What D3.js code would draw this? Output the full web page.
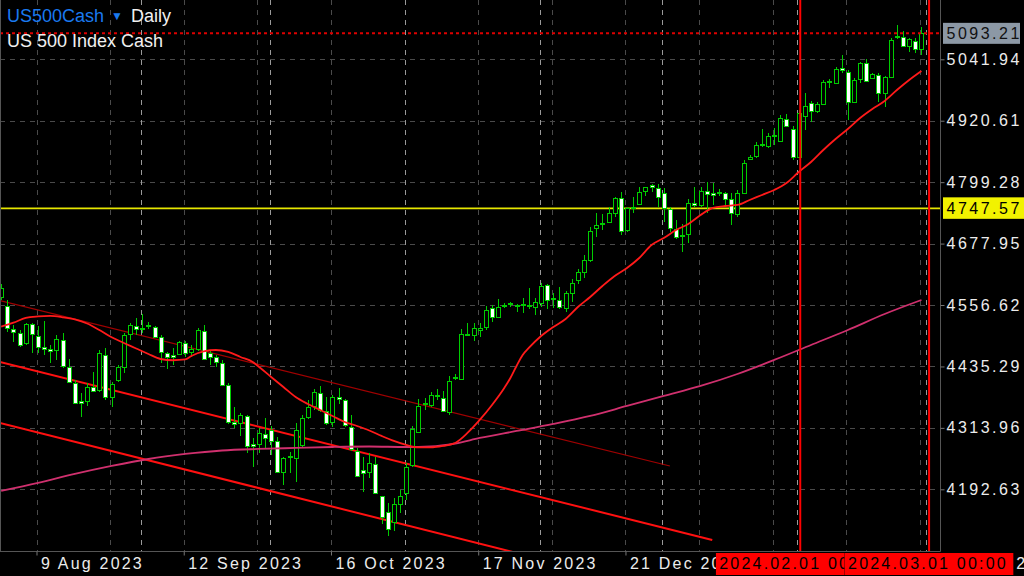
<!DOCTYPE html>
<html><head><meta charset="utf-8">
<script src="https://cdn.jsdelivr.net/npm/d3@7"></script>
<style>
html,body{margin:0;padding:0;background:#000;overflow:hidden}
svg{display:block}
text{font-family:"Liberation Sans",Helvetica,Arial,sans-serif}
</style></head><body>
<svg id="c" width="1024" height="576"></svg>
<script>
// ---------------- DATA ----------------
const symbolName = "US500Cash";
const timeframe = "Daily";
const symbolDesc = "US 500 Index Cash";
const firstIndex = -6; // bar index of first candle (index 0 = 9 Aug 2023)
const open = [4572.5,4554.7,4508.7,4500.8,4481.0,4518.6,4495.5,4474.3,4469.8,4467.8,
4487.6,4434.8,4403.2,4367.1,4367.7,4395.3,4388.8,4457.9,4374.4,4408.6,
4434.8,4498.8,4515.2,4511.3,4516.2,4513.8,4492.9,4461.3,4457.9,4459.9,
4482.2,4463.3,4469.2,4505.3,4461.3,4453.4,4442.7,4398.7,4326.2,4323.0,
4337.5,4281.6,4282.2,4301.9,4309.8,4288.7,4227.5,4258.5,4253.9,4280.2,
4334.9,4357.2,4382.3,4347.9,4326.2,4375.6,4369.1,4316.3,4268.9,4230.8,
4227.5,4242.7,4178.5,4147.3,4128.7,4163.7,4186.0,4240.7,4306.5,4363.1,
4359.2,4378.5,4373.6,4346.0,4414.1,4410.5,4499.8,4497.4,4507.3,4513.8,
4550.2,4533.6,4556.3,4561.0,4555.7,4557.7,4556.3,4553.3,4561.2,4595.6,
4569.5,4566.6,4550.2,4581.0,4606.1,4622.5,4645.6,4708.2,4717.7,4721.2,
4739.0,4767.4,4704.8,4750.6,4756.2,4782.4,4792.7,4787.2,4777.3,4745.7,
4706.2,4694.0,4696.9,4758.7,4754.2,4782.4,4776.9,4780.3,4777.3,4765.4,
4736.4,4778.5,4844.4,4851.0,4873.7,4870.7,4891.5,4881.2,4923.4,4903.7,
4849.6,4930.0,4955.0,4940.4,4953.7,4998.7,4995.7,5024.8,5017.5,4958.2,
5002.4,5034.0,5004.4,5010.9,4976.0,5007.6,5087.6,5086.6,5068.2,5078.7,
5061.7];
const high = [4598.2,4566.6,4517.2,4507.3,4521.7,4521.7,4515.2,4525.1,4477.7,4497.4,
4500.8,4450.6,4408.6,4382.3,4403.2,4425.0,4467.8,4471.2,4405.2,4438.2,
4500.8,4521.7,4530.4,4538.9,4523.7,4515.2,4497.4,4464.5,4471.2,4486.2,
4485.6,4477.7,4510.7,4517.2,4467.8,4457.9,4448.1,4402.0,4355.8,4342.8,
4339.4,4293.4,4313.2,4332.9,4317.7,4296.6,4257.1,4267.0,4324.2,4339.4,
4369.1,4390.2,4396.7,4375.6,4378.9,4392.2,4370.4,4339.4,4273.7,4255.9,
4265.0,4257.1,4179.5,4165.0,4174.9,4191.3,4244.0,4317.7,4370.4,4372.4,
4385.5,4390.2,4387.4,4416.5,4420.4,4508.7,4521.7,4520.5,4521.7,4554.7,
4556.7,4567.9,4560.0,4563.2,4558.7,4569.9,4589.7,4569.9,4600.7,4598.2,
4579.8,4592.8,4584.3,4607.4,4627.2,4655.4,4711.3,4737.8,4736.4,4750.8,
4770.6,4780.5,4750.8,4770.6,4789.1,4790.3,4795.7,4795.7,4787.2,4750.8,
4724.6,4716.7,4765.4,4790.3,4790.3,4800.2,4798.2,4785.2,4780.5,4777.3,
4783.8,4843.1,4852.9,4879.2,4903.7,4897.0,4905.7,4931.9,4933.9,4910.2,
4941.8,4974.8,4960.2,4958.2,5001.1,5002.4,5027.3,5050.4,5020.8,5004.4,
5037.2,5041.9,5015.5,5014.3,5009.0,5083.4,5109.7,5098.4,5083.4,5083.4,
5105.1];
const low = [4566.6,4503.9,4484.2,4474.3,4477.7,4462.5,4462.5,4457.9,4442.7,4448.1,
4431.7,4402.0,4362.5,4336.1,4357.2,4384.9,4385.5,4369.1,4355.8,4405.2,
4423.0,4487.6,4497.4,4500.8,4508.7,4492.5,4441.5,4429.7,4438.2,4457.9,
4453.4,4454.6,4466.4,4448.1,4438.2,4434.8,4396.7,4321.7,4313.2,4298.0,
4265.0,4237.3,4263.8,4273.7,4260.4,4224.3,4201.2,4224.3,4207.7,4276.8,
4330.9,4349.3,4346.0,4319.7,4315.1,4361.2,4315.7,4268.9,4217.6,4188.0,
4215.0,4184.8,4124.2,4100.5,4110.9,4145.3,4171.6,4236.7,4303.9,4349.3,
4355.8,4369.1,4346.0,4339.4,4408.6,4408.6,4495.5,4486.2,4494.1,4507.3,
4523.7,4530.4,4550.2,4553.3,4543.5,4540.3,4548.2,4536.9,4553.3,4548.2,
4550.2,4548.2,4543.5,4563.2,4598.2,4609.4,4642.2,4691.6,4704.8,4718.0,
4731.1,4694.9,4700.9,4737.8,4754.2,4772.0,4780.5,4750.8,4721.2,4701.5,
4686.4,4661.4,4678.5,4750.8,4750.8,4737.8,4754.2,4772.0,4754.2,4714.7,
4731.1,4777.3,4843.1,4846.4,4869.3,4866.2,4872.7,4879.2,4908.8,4843.1,
4847.0,4902.3,4918.7,4935.3,4951.7,4984.7,4993.2,5014.3,4922.1,4955.0,
4994.5,4997.7,5002.4,4958.2,4947.1,5004.4,5081.4,5066.8,5057.0,5053.8,
5050.4];
const close = [4590.3,4510.7,4502.8,4477.7,4518.6,4498.8,4474.3,4469.8,4466.4,4488.9,
4436.2,4404.0,4363.7,4363.1,4394.1,4387.4,4462.5,4374.4,4400.7,4433.6,
4497.4,4517.2,4508.7,4509.3,4514.2,4494.1,4464.5,4453.4,4453.4,4483.0,
4462.5,4469.8,4507.3,4449.4,4454.6,4444.7,4398.7,4326.2,4321.7,4339.4,
4278.2,4278.2,4303.3,4293.4,4288.7,4227.5,4253.9,4255.9,4309.8,4332.9,
4355.8,4385.5,4349.3,4323.0,4375.6,4370.4,4319.7,4271.7,4219.0,4225.5,
4244.0,4186.0,4137.4,4113.7,4163.7,4179.5,4237.3,4311.2,4357.2,4361.2,
4378.9,4376.6,4347.9,4406.6,4412.1,4499.4,4497.8,4510.7,4511.3,4546.8,
4533.6,4552.1,4554.3,4559.1,4553.7,4555.7,4554.3,4562.0,4594.2,4566.6,
4567.6,4552.1,4579.8,4600.7,4621.3,4645.6,4703.4,4714.7,4715.7,4737.8,
4767.4,4703.4,4747.7,4748.7,4780.5,4789.1,4790.7,4769.4,4747.7,4708.2,
4691.6,4692.0,4757.5,4754.2,4782.4,4775.3,4774.9,4778.3,4765.4,4737.8,
4778.5,4837.7,4849.6,4872.7,4871.7,4890.5,4889.5,4925.4,4910.2,4849.6,
4935.9,4949.7,4940.4,4953.7,4997.7,4996.7,5022.2,5020.8,4958.2,5001.1,
5034.0,4999.1,5012.9,4976.0,5006.4,5080.1,5085.6,5068.2,5081.4,5061.7,
5093.21];

// moving averages (bar index, price)
const maFastIndex = [-6,-4,-2,0,2,4,6,8,10,12,14,16,18,20,22,24,25,27,29,31,33,35,36,38,40,42,44,46,48,50,52,54,56,58,60,62,64,66,68,70,72,74,76,77,78,79,80,82,84,86,88,90,92,94,96,98,100,102,104,106,108,110,112,114,116,118,120,122,124,126,128,130,132,134,136,138,140,142,144];
const maFastValue = [4513.8,4521.7,4531.0,4534.0,4535.0,4532.4,4528.1,4520.2,4507.3,4492.9,4481.6,4470.8,4459.9,4450.0,4447.5,4449.1,4456.0,4464.9,4467.8,4463.9,4454.0,4444.1,4434.8,4414.5,4394.7,4375.0,4361.2,4349.3,4337.5,4325.6,4317.7,4308.8,4298.0,4288.1,4280.2,4275.3,4275.3,4278.2,4284.1,4303.9,4329.6,4359.2,4392.8,4412.5,4436.2,4457.9,4471.8,4495.5,4513.2,4529.0,4552.7,4572.5,4594.2,4614.0,4629.8,4649.5,4675.2,4689.0,4704.8,4716.7,4734.4,4748.3,4752.2,4754.2,4764.1,4773.9,4783.8,4797.6,4819.4,4839.1,4862.8,4884.5,4904.3,4926.0,4943.8,4959.6,4981.3,5001.1,5018.8];
const maSlowIndex = [-6,0,6,12,18,24,30,36,42,48,54,60,64,68,72,78,84,90,96,102,108,114,120,126,132,138,144];
const maSlowValue = [4189.3,4205.1,4222.9,4238.7,4252.5,4262.4,4269.3,4272.3,4274.3,4276.2,4277.2,4276.2,4277.2,4283.1,4294.0,4307.8,4321.7,4337.5,4357.2,4377.0,4396.7,4420.4,4448.1,4477.7,4507.3,4538.9,4566.6];

// trend lines (bar index, price)
const trendStartIndex = [-6.2, -6.2, -6.2];
const trendStartPrice = [4565.2, 4444.1, 4323.6];
const trendEndIndex = [103.0, 109.9, 90.0];
const trendEndPrice = [4238.7, 4092.6, 4030.4];

const priceTicks = [5041.94, 4920.61, 4799.28, 4677.95, 4556.62, 4435.29, 4313.96, 4192.63];
const gridIndex = [0,12,24,36,48,60,72,84,96,108,120,132,144];
const dateTickIndex = [0,24,48,72,96,120,144];
const dateTickLabels = ["9 Aug 2023","12 Sep 2023","16 Oct 2023","17 Nov 2023","21 Dec 2023","26 Jan 2024","29 Feb 2024"];
const monthSeparatorIndex = [17,38,60,82,102,124,145];
const vLineIndex = [124,145];
const vLineLabels = ["2024.02.01 00:00","2024.03.01 00:00"];
const currentPrice = 5093.21;
const levelPrice = 4747.57;

// ---------------- DRAW ----------------
const W = 940, H = 551;
const GREEN = "#00cc00";
const FONT = "Liberation Sans, Helvetica, Arial, sans-serif";
const svg = d3.select("#c");
svg.append("rect").attr("width",1024).attr("height",576).attr("fill","#000");

const x = d3.scaleLinear().domain([0,144]).range([38, 921.44]);
const y = d3.scaleLinear().domain([4192.63, 5041.94]).range([489.3, 59.3]);
const px = v => Math.round(v) + 0.5;

const defs = svg.append("defs");
defs.append("clipPath").attr("id","plot")
  .append("rect").attr("x",0).attr("y",0).attr("width",W).attr("height",H);
const plot = svg.append("g").attr("clip-path","url(#plot)");

// grid
plot.selectAll("line.hg").data(priceTicks).join("line").attr("class","hg")
  .attr("x1",0).attr("x2",W).attr("y1",d=>px(y(d))).attr("y2",d=>px(y(d)))
  .attr("stroke","#4a4a4a").attr("stroke-dasharray","5,5");
plot.selectAll("line.vg").data(gridIndex).join("line").attr("class","vg")
  .attr("x1",d=>px(x(d)-1.5)).attr("x2",d=>px(x(d)-1.5)).attr("y1",0).attr("y2",H)
  .attr("stroke","#4a4a4a").attr("stroke-dasharray","5,5");
plot.selectAll("line.sep").data(monthSeparatorIndex).join("line").attr("class","sep")
  .attr("x1",d=>px(x(d)-1.5)).attr("x2",d=>px(x(d)-1.5)).attr("y1",0).attr("y2",H)
  .attr("stroke","#9a9a9a").attr("stroke-dasharray","5,5");

// trend lines
const trendColors = ["#a00000","#ff1010","#ff1010"];
const trendWidths = [1.2, 2, 2];
trendStartIndex.forEach((s,k)=>{
  plot.append("line")
    .attr("x1",x(s)).attr("y1",y(trendStartPrice[k]))
    .attr("x2",x(trendEndIndex[k])).attr("y2",y(trendEndPrice[k]))
    .attr("stroke",trendColors[k]).attr("stroke-width",trendWidths[k]);
});

// horizontal level
plot.append("line").attr("x1",0).attr("x2",W).attr("y1",y(levelPrice)).attr("y2",y(levelPrice))
  .attr("stroke","#e6e600").attr("stroke-width",1.6);

// candles
const bars = open.map((o,k)=>({i:firstIndex+k,o,h:high[k],l:low[k],c:close[k]}));
const cg = plot.append("g");
cg.selectAll("line.wick").data(bars).join("line").attr("class","wick")
  .attr("x1",d=>Math.round(x(d.i))+0.5).attr("x2",d=>Math.round(x(d.i))+0.5)
  .attr("y1",d=>Math.round(y(d.h))).attr("y2",d=>Math.round(y(d.l)))
  .attr("stroke",GREEN).attr("stroke-width",1);
cg.selectAll("rect.body").data(bars).join("rect").attr("class","body")
  .attr("x",d=>Math.round(x(d.i))-1.5)
  .attr("y",d=>Math.round(y(Math.max(d.o,d.c)))+0.5)
  .attr("width",4)
  .attr("height",d=>Math.max(1, Math.round(y(Math.min(d.o,d.c)))-Math.round(y(Math.max(d.o,d.c)))))
  .attr("fill",d=>d.c>=d.o?"#000":"#fff")
  .attr("stroke",GREEN).attr("stroke-width",1);

// moving averages
const line = d3.line().x(d=>x(d[0])).y(d=>y(d[1])).curve(d3.curveMonotoneX);
plot.append("path").datum(maSlowIndex.map((d,k)=>[d,maSlowValue[k]]))
  .attr("d",line).attr("fill","none").attr("stroke","#d0306e").attr("stroke-width",1.8);
plot.append("path").datum(maFastIndex.map((d,k)=>[d,maFastValue[k]]))
  .attr("d",line).attr("fill","none").attr("stroke","#ff1a1a").attr("stroke-width",1.8);

// current price dotted line
plot.append("line").attr("x1",0).attr("x2",W).attr("y1",y(currentPrice)).attr("y2",y(currentPrice))
  .attr("stroke","#dd0000").attr("stroke-width",2).attr("stroke-dasharray","3,3");

// vertical red lines
plot.selectAll("line.vl").data(vLineIndex).join("line").attr("class","vl")
  .attr("x1",d=>x(d)+1.5).attr("x2",d=>x(d)+1.5).attr("y1",0).attr("y2",H)
  .attr("stroke","#ff0000").attr("stroke-width",2);

// frame
svg.append("line").attr("x1",0.5).attr("x2",0.5).attr("y1",0).attr("y2",H).attr("stroke","#555");
svg.append("line").attr("x1",W+0.5).attr("x2",W+0.5).attr("y1",0).attr("y2",H+0.5).attr("stroke","#555");
svg.append("line").attr("x1",0).attr("x2",W+0.5).attr("y1",H+0.5).attr("y2",H+0.5).attr("stroke","#555");

// right price axis
const yAxis = d3.axisRight(y).tickValues(priceTicks).tickSize(4).tickPadding(2).tickFormat(d3.format(".2f"));
const ya = svg.append("g").attr("transform",`translate(${W+0.5},0)`).call(yAxis);
ya.select(".domain").remove();
ya.selectAll(".tick line").attr("stroke","#777");
ya.selectAll(".tick text").attr("fill","#ececec").attr("font-size",16)
  .attr("font-family",FONT).style("letter-spacing","2.5px");

// bottom time axis (labels under the red date boxes are hidden by a clip)
const xlabClip = defs.append("clipPath").attr("id","xlab");
xlabClip.append("rect").attr("x",-10).attr("y",540).attr("width",726).attr("height",40);
xlabClip.append("rect").attr("x",1015).attr("y",540).attr("width",20).attr("height",40);
const xAxis = d3.axisBottom(x).tickValues(dateTickIndex).tickSize(4)
  .tickFormat((d,k)=>dateTickLabels[k]);
const xa = svg.append("g").attr("clip-path","url(#xlab)")
  .append("g").attr("transform",`translate(-1.5,${H+0.5})`).call(xAxis);
xa.select(".domain").remove();
xa.selectAll(".tick line").attr("stroke","#777");
xa.selectAll(".tick text").attr("fill","#ececec").attr("font-size",16)
  .attr("font-family",FONT)
  .attr("text-anchor","start").attr("x",4).attr("y",17).attr("dy",0)
  .style("letter-spacing","2.2px");

// current price label (gray)
const cpY = y(currentPrice);
svg.append("rect").attr("x",943).attr("y",cpY-10.5).attr("width",77).attr("height",21).attr("fill","#8c98a5");
svg.append("text").attr("x",946.5).attr("y",cpY+6).attr("fill","#111").attr("font-size",16)
  .style("letter-spacing","2.5px").text(d3.format(".2f")(currentPrice));
// level label (yellow)
const lvY = y(levelPrice);
svg.append("rect").attr("x",943).attr("y",lvY-11).attr("width",81).attr("height",21.5).attr("fill","#f2f200");
svg.append("text").attr("x",946.5).attr("y",lvY+6).attr("fill","#000").attr("font-size",16)
  .style("letter-spacing","2.5px").text(d3.format(".2f")(levelPrice));

// vertical line date labels (red boxes); each box's text is clipped to what stays visible
const boxX = vLineIndex.map(d => x(d) + 1.5 - 84.5);
vLineIndex.forEach((d,k)=>{
  const bx = boxX[k];
  const visRight = k < vLineIndex.length - 1 ? boxX[k+1] : bx + 169;
  defs.append("clipPath").attr("id","vb"+k)
    .append("rect").attr("x",bx).attr("y",550).attr("width",visRight-bx).attr("height",26);
  const g = svg.append("g").attr("clip-path",`url(#vb${k})`);
  g.append("rect").attr("x",bx).attr("y",553).attr("width",169).attr("height",22).attr("fill","#ff0000");
  g.append("text").attr("x",bx+3.5).attr("y",568.5).attr("fill","#000").attr("font-size",16)
    .style("letter-spacing","2.2px").text(vLineLabels[k]);
});

// titles
const t1 = svg.append("text").attr("x",7).attr("y",22).attr("font-size",18);
t1.append("tspan").attr("fill","#1a7af0").text(symbolName);
t1.append("tspan").attr("fill","#1a7af0").attr("font-size",12).attr("dx",7).attr("dy",-2).text("\u25BC");
t1.append("tspan").attr("fill","#f0f0f0").attr("dx",8).attr("dy",2).text(timeframe);
svg.append("text").attr("x",7).attr("y",46.5).attr("font-size",18).attr("fill","#f0f0f0").text(symbolDesc);
</script>
</body></html>
